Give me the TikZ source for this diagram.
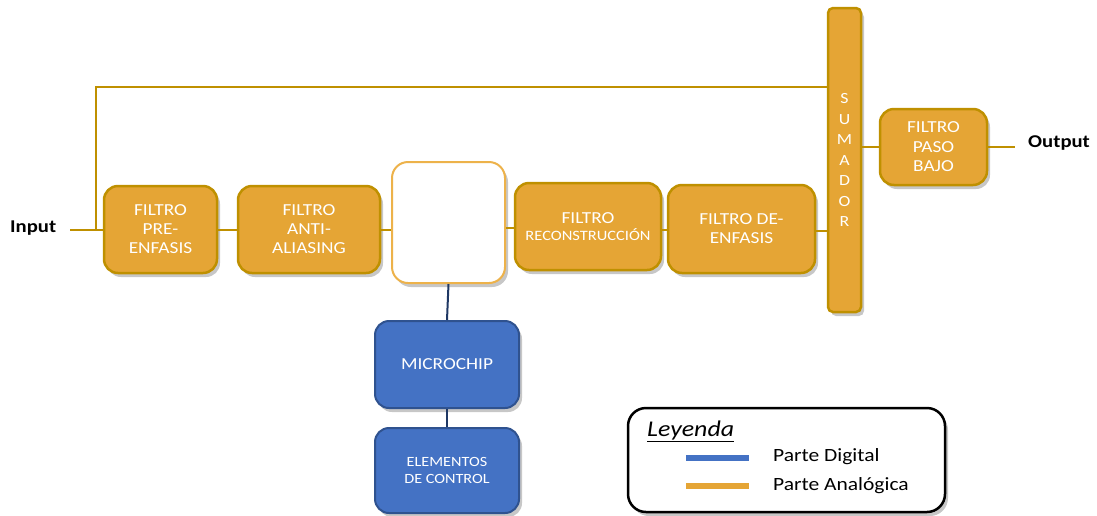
\documentclass[tikz,border=0pt]{standalone}
\usepackage{fontspec}
\setmainfont[FakeStretch=1.15]{Carlito}
\usetikzlibrary{shadows}
\definecolor{orfill}{HTML}{E5A535}
\definecolor{ordraw}{HTML}{BF9000}
\definecolor{orlight}{HTML}{EDB24A}
\definecolor{blfill}{HTML}{4472C4}
\definecolor{bldraw}{HTML}{2F528F}
\definecolor{blline}{HTML}{1F3864}
\tikzset{
  shd/.style={drop shadow={shadow xshift=3pt,shadow yshift=-4pt,opacity=0.22,fill=black}},
  obox/.style={shd,rounded corners=14pt,fill=orfill,draw=ordraw,line width=2.5pt,
    text=white,align=center,inner sep=0pt,font=\fontsize{16.8}{19}\selectfont},
  wbox/.style={shd,rounded corners=16pt,fill=white,draw=orlight,line width=2pt},
  bbox/.style={shd,rounded corners=14pt,fill=blfill,draw=bldraw,line width=2pt,
    text=white,align=center,inner sep=0pt,font=\fontsize{16.8}{19}\selectfont},
  oline/.style={draw=ordraw,line width=2pt},
  bline/.style={draw=blline,line width=2pt},
  lbl/.style={font=\bfseries\fontsize{18}{20}\selectfont,inner sep=0pt},
}
\begin{document}
\begin{tikzpicture}[x=1pt,y=-1pt]
\useasboundingbox (0,0) rectangle (1097,515);
\node[obox,minimum width=113pt,minimum height=87pt] (pre) at (160.5,229.5) {FILTRO\\PRE-\\ENFASIS};
\node[obox,minimum width=142pt,minimum height=87pt] (anti) at (309,229.5) {FILTRO\\ANTI-\\ALIASING};
\node[wbox,minimum width=113pt,minimum height=121pt] (adc) at (448.5,222.5) {};
\node[obox,minimum width=146pt,minimum height=87pt] (rec) at (588,226.5) {FILTRO\\[-2pt]{\fontsize{14.3}{17}\selectfont RECONSTRUCCIÓN}};
\node[obox,minimum width=147pt,minimum height=88pt] (den) at (741.5,229) {FILTRO DE-\\ENFASIS};
\node[obox,rounded corners=5pt,minimum width=33pt,minimum height=304pt,font=\fontsize{15.5}{20.5}\selectfont] (sum) at (844.5,160) {S\\U\\M\\A\\D\\O\\R};
\node[obox,minimum width=107pt,minimum height=76pt,font=\fontsize{16.8}{19.5}\selectfont] (lpf) at (933.5,147) {FILTRO\\PASO\\BAJO};
\node[bbox,minimum width=144pt,minimum height=87pt] (mic) at (447,364.5) {MICROCHIP};
\node[bbox,minimum width=144pt,minimum height=85pt,font=\fontsize{14.1}{17}\selectfont] (ele) at (447,470.5) {ELEMENTOS\\DE CONTROL};
% labels
\node[lbl,anchor=west] (in) at (10,228.5) {Input};
\node[lbl,anchor=west] (out) at (1028,143.5) {Output};
\coordinate (inend) at (70,229.5);
\coordinate (fb) at (96,229.5);
\coordinate (fbtop) at (96,87);
\coordinate (outend) at (1015,147);
% connectors
\draw[oline] (inend) -- (pre.west);
\draw[oline] (fb) -- (fbtop) -- (fbtop -| sum.west);
\draw[oline] (pre.east) -- (anti.west);
\draw[oline] (anti.east) -- (anti.east -| adc.west);
\draw[oline] (adc.east |- 0,228) -- (rec.west |- 0,228);
\draw[oline] (rec.east |- 0,229.5) -- (den.west |- 0,229.5);
\draw[oline] (den.east |- 0,230.5) -- (sum.west |- 0,230.5);
\draw[oline] (sum.east |- lpf.west) -- (lpf.west);
\draw[oline] (lpf.east) -- (outend);
\draw[bline] (adc.south) -- (mic.north);
\draw[bline] (mic.south) -- (ele.north);
% legend
\node[shd,draw=black,fill=white,line width=2.5pt,rounded corners=18pt,minimum width=317pt,minimum height=104pt] (leg) at (786.5,460) {};
\node[inner sep=0pt,anchor=west,font=\itshape\fontsize{22.5}{24}\selectfont] (legt) at (647,431) {\underline{Leyenda}};
\coordinate (d1) at (686,458);
\coordinate (d2) at (749,458);
\coordinate (a1) at (686,486);
\coordinate (a2) at (749,486);
\draw[draw=blfill,line width=6pt] (d1) -- (d2);
\draw[draw=orfill,line width=6pt] (a1) -- (a2);
\node[inner sep=0pt,anchor=west,font=\fontsize{18.7}{22}\selectfont] (ld) at (773,457) {Parte Digital};
\node[inner sep=0pt,anchor=west,font=\fontsize{18.7}{22}\selectfont] (la) at (773,486) {Parte Analógica};
\end{tikzpicture}
\end{document}
